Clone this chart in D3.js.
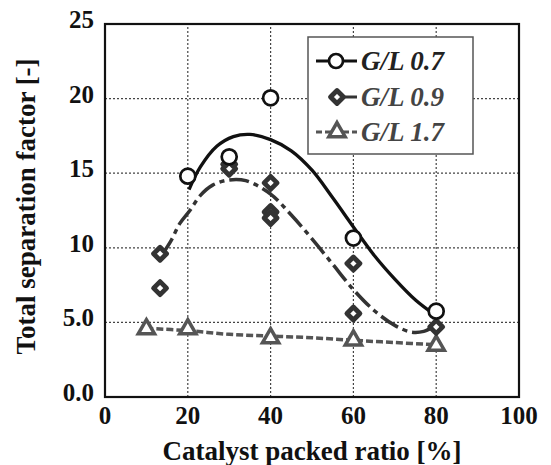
<!DOCTYPE html>
<html>
<head>
<meta charset="utf-8">
<script src="https://cdn.jsdelivr.net/npm/d3@7"></script>
<style>
  html, body { margin: 0; padding: 0; background: #fff; font-family: 'Liberation Serif', serif; }
</style>
</head>
<body>
<div id="chart"></div>
<script>
const gl07 = [[20, 14.8], [30, 16.1], [40, 20.05], [60, 10.65], [80, 5.75]];
const gl09 = [[13.3, 9.6], [13.3, 7.3], [30, 15.6], [30, 15.3], [40, 14.35], [40, 12.4], [40, 12.0], [60, 8.95], [60, 5.6], [80, 4.7]];
const gl17 = [[10, 4.55], [20, 4.55], [40, 3.95], [60, 3.8], [80, 3.45]];

// Fitted trend curves
const fit07 = [[20.3, 13.9], [23, 15.4], [27, 16.8], [31, 17.45], [35, 17.6], [40, 17.25], [45, 16.5], [50, 15.2], [55, 13.35], [60, 11.4], [65, 9.5], [70, 7.9], [75, 6.5], [79.7, 5.5]];
const fit09 = [[13.7, 9.5], [16, 10.5], [18, 11.6], [20.5, 12.5], [23, 13.5], [26, 14.2], [30, 14.55], [34, 14.5], [40, 13.6], [45, 12.2], [50, 10.6], [55, 8.9], [60, 7.2], [65, 5.8], [70, 4.8], [74, 4.35], [77, 4.4], [80, 4.8]];
const fit17 = [[10, 4.6], [20, 4.45], [30, 4.2], [40, 4.08], [50, 3.97], [60, 3.8], [70, 3.65], [80, 3.5]];

const xTicks = [0, 20, 40, 60, 80, 100];
const yTicks = [0, 5, 10, 15, 20, 25];
const yTickLabels = ['0.0', '5.0', '10', '15', '20', '25'];
const legendLabels = ['G/L 0.7', 'G/L 0.9', 'G/L 1.7'];

const serif = 'Liberation Serif';

const width = 551, height = 465;
const margin = { top: 24, right: 32, bottom: 68, left: 105 };

const svg = d3.select('#chart').append('svg')
    .attr('width', width)
    .attr('height', height)
    .attr('font-family', serif)
    .attr('font-weight', 'bold');

const x = d3.scaleLinear().domain([0, 100]).range([margin.left, width - margin.right]);
const y = d3.scaleLinear().domain([0, 25]).range([height - margin.bottom, margin.top]);

// Dotted grid
svg.append('g')
    .selectAll('line')
    .data(xTicks.slice(1, -1))
    .join('line')
    .attr('x1', d => x(d)).attr('x2', d => x(d))
    .attr('y1', y(0)).attr('y2', y(25))
    .attr('stroke', '#444').attr('stroke-width', 1.2).attr('stroke-dasharray', '2,2');

svg.append('g')
    .selectAll('line')
    .data(yTicks.slice(1, -1))
    .join('line')
    .attr('x1', x(0)).attr('x2', x(100))
    .attr('y1', d => y(d)).attr('y2', d => y(d))
    .attr('stroke', '#444').attr('stroke-width', 1.2).attr('stroke-dasharray', '2,2');

// Tick labels
svg.append('g')
    .selectAll('text')
    .data(xTicks)
    .join('text')
    .attr('x', d => x(d)).attr('y', y(0) + 27)
    .attr('text-anchor', 'middle')
    .attr('font-family', serif).attr('font-size', 25).attr('font-weight', 'bold').attr('fill', '#111')
    .text(d => d);

svg.append('g')
    .selectAll('text')
    .data(yTicks)
    .join('text')
    .attr('x', x(0) - 11).attr('y', d => y(d) + 4)
    .attr('text-anchor', 'end')
    .attr('font-family', serif).attr('font-size', 25).attr('font-weight', 'bold').attr('fill', '#111')
    .text((d, i) => yTickLabels[i]);

// Frame
svg.append('rect')
    .attr('x', x(0)).attr('y', y(25))
    .attr('width', x(100) - x(0)).attr('height', y(0) - y(25))
    .attr('fill', 'none').attr('stroke', '#111').attr('stroke-width', 2.2);

// Axis titles
svg.append('text')
    .attr('x', (x(0) + x(100)) / 2).attr('y', 460)
    .attr('text-anchor', 'middle').attr('fill', '#111')
    .attr('font-family', serif).attr('font-size', 27).attr('font-weight', 'bold')
    .text('Catalyst packed ratio [%]');

svg.append('text')
    .attr('transform', `translate(35,${(y(0) + y(25)) / 2 - 4}) rotate(-90)`)
    .attr('text-anchor', 'middle').attr('fill', '#111')
    .attr('font-family', serif).attr('font-size', 27).attr('font-weight', 'bold')
    .text('Total separation factor [-]');

// Trend curves
const line = d3.line().x(d => x(d[0])).y(d => y(d[1])).curve(d3.curveCatmullRom);

svg.append('path').datum(fit17).attr('d', line)
    .attr('fill', 'none').attr('stroke', '#555').attr('stroke-width', 3.5).attr('stroke-dasharray', '7,3');
svg.append('path').datum(fit09).attr('d', line)
    .attr('fill', 'none').attr('stroke', '#333').attr('stroke-width', 3.5).attr('stroke-dasharray', '20,5,5,5');
svg.append('path').datum(fit07).attr('d', line)
    .attr('fill', 'none').attr('stroke', '#111').attr('stroke-width', 3.3);

// Markers
const triangle = d3.symbol().type(d3.symbolTriangle).size(115);
const diamond = 'M0,-6.5L6.5,0L0,6.5L-6.5,0Z';

svg.append('g').selectAll('path')
    .data(gl17).join('path')
    .attr('transform', d => `translate(${x(d[0])},${y(d[1])})`)
    .attr('d', triangle)
    .attr('fill', '#fff').attr('stroke', '#555').attr('stroke-width', 3.5);

svg.append('g').selectAll('path')
    .data(gl09).join('path')
    .attr('transform', d => `translate(${x(d[0])},${y(d[1])})`)
    .attr('d', diamond)
    .attr('fill', '#fff').attr('stroke', '#333').attr('stroke-width', 4.8).attr('stroke-linejoin', 'round');

svg.append('g').selectAll('circle')
    .data(gl07).join('circle')
    .attr('cx', d => x(d[0])).attr('cy', d => y(d[1])).attr('r', 7.5)
    .attr('fill', '#fff').attr('stroke', '#111').attr('stroke-width', 2.7);

// Legend
const legend = svg.append('g').attr('transform', 'translate(308,37)');
legend.append('rect')
    .attr('width', 165).attr('height', 117)
    .attr('fill', '#fff').attr('stroke', '#555').attr('stroke-width', 1.5);

const rows = [24, 60, 95];
const colors = ['#111', '#333', '#555'];

// G/L 0.7 row
legend.append('line').attr('x1', 8).attr('x2', 49).attr('y1', rows[0]).attr('y2', rows[0])
    .attr('stroke', colors[0]).attr('stroke-width', 3);
legend.append('circle').attr('cx', 28).attr('cy', rows[0]).attr('r', 7)
    .attr('fill', '#fff').attr('stroke', colors[0]).attr('stroke-width', 2.7);

// G/L 0.9 row
legend.append('line').attr('x1', 28).attr('x2', 49).attr('y1', rows[1]).attr('y2', rows[1])
    .attr('stroke', colors[1]).attr('stroke-width', 3);
legend.append('path').attr('transform', `translate(29,${rows[1]})`).attr('d', diamond)
    .attr('fill', '#fff').attr('stroke', colors[1]).attr('stroke-width', 4.8).attr('stroke-linejoin', 'round');

// G/L 1.7 row
legend.append('line').attr('x1', 8).attr('x2', 49).attr('y1', rows[2]).attr('y2', rows[2])
    .attr('stroke', colors[2]).attr('stroke-width', 3).attr('stroke-dasharray', '6,3');
legend.append('path').attr('transform', `translate(29,${rows[2]})`).attr('d', triangle)
    .attr('fill', '#fff').attr('stroke', colors[2]).attr('stroke-width', 3.5);

legend.selectAll('text.lab')
    .data(legendLabels).join('text')
    .attr('class', 'lab')
    .attr('x', 53).attr('y', (d, i) => rows[i] + 9)
    .attr('font-family', serif).attr('font-size', 27)
    .attr('font-weight', 'bold').attr('font-style', 'italic')
    .attr('fill', (d, i) => i === 0 ? '#222' : '#444')
    .text(d => d);
</script>
</body>
</html>
